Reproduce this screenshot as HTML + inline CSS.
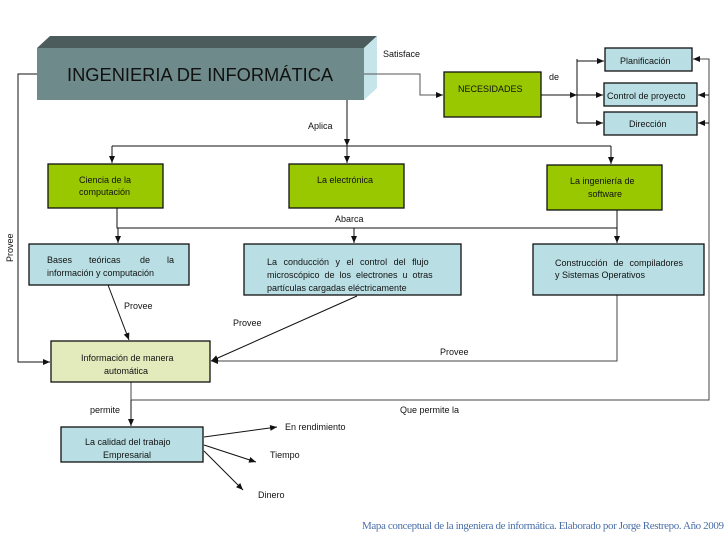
<!DOCTYPE html>
<html><head><meta charset="utf-8"><style>
body{margin:0;background:#fff}
svg{display:block}
text{font-family:"Liberation Sans",sans-serif;font-size:9px;fill:#111}
.b{stroke:#111;stroke-width:1.3}
</style></head><body>
<svg width="728" height="546" viewBox="0 0 728 546" xmlns="http://www.w3.org/2000/svg">
<defs><marker id="a" markerWidth="8" markerHeight="8" refX="7" refY="4" orient="auto" markerUnits="userSpaceOnUse"><path d="M0,1 L7,4 L0,7z" fill="#111"/></marker></defs>
<polygon points="37,48 50,36 377,36 364,48" fill="#4c5b5b"/>
<polygon points="364,48 377,36 377,88 364,100" fill="#c6e5ea"/>
<rect x="37" y="48" width="327" height="52" fill="#6f8a8a"/>
<text x="67" y="81" style="font-size:18.3px">INGENIERIA DE INFORMÁTICA</text>
<g fill="none" stroke="#111" stroke-width="1">
<polyline points="37,74 18,74 18,362 50,362" marker-end="url(#a)"/>
<polyline points="364,74 420,74 420,95 443,95" stroke="#555" marker-end="url(#a)"/>
<polyline points="541,95 577,95" marker-end="url(#a)"/>
<polyline points="577,59 577,123"/>
<line x1="577" y1="61" x2="604" y2="61" marker-end="url(#a)"/>
<line x1="577" y1="95" x2="603" y2="95" marker-end="url(#a)"/>
<line x1="577" y1="123" x2="603" y2="123" marker-end="url(#a)"/>
<polyline points="131,382 131,400 709,400 709,59 693,59" stroke="#444" marker-end="url(#a)"/>
<line x1="709" y1="95" x2="698" y2="95" marker-end="url(#a)"/>
<line x1="709" y1="123" x2="698" y2="123" marker-end="url(#a)"/>
<line x1="347" y1="100" x2="347" y2="146" marker-end="url(#a)"/>
<line x1="112" y1="146" x2="611" y2="146"/>
<line x1="112" y1="146" x2="112" y2="163" marker-end="url(#a)"/>
<line x1="347" y1="146" x2="347" y2="163" marker-end="url(#a)"/>
<line x1="611" y1="146" x2="611" y2="164" marker-end="url(#a)"/>
<polyline points="117,208 117,228 617,228"/>
<line x1="617" y1="210" x2="617" y2="228"/>
<line x1="118" y1="228" x2="118" y2="243" marker-end="url(#a)"/>
<line x1="354" y1="228" x2="354" y2="243" marker-end="url(#a)"/>
<line x1="617" y1="228" x2="617" y2="243" marker-end="url(#a)"/>
<line x1="108" y1="285" x2="129" y2="340" marker-end="url(#a)"/>
<line x1="357" y1="296" x2="211" y2="361" marker-end="url(#a)"/>
<polyline points="617,295 617,361 211,361" stroke="#444" marker-end="url(#a)"/>
<line x1="131" y1="400" x2="131" y2="426" marker-end="url(#a)"/>
<line x1="204" y1="437" x2="277" y2="427" marker-end="url(#a)"/>
<line x1="204" y1="445" x2="256" y2="462" marker-end="url(#a)"/>
<line x1="204" y1="451" x2="243" y2="490" marker-end="url(#a)"/>
</g>
<g class="b">
<rect x="444" y="72" width="97" height="45" fill="#99c800"/>
<rect x="605" y="48" width="87" height="23" fill="#b9dfe4"/>
<rect x="604" y="83" width="93" height="23" fill="#b9dfe4"/>
<rect x="604" y="112" width="93" height="23" fill="#b9dfe4"/>
<rect x="48" y="164" width="115" height="44" fill="#99c800"/>
<rect x="289" y="164" width="115" height="44" fill="#99c800"/>
<rect x="547" y="165" width="115" height="45" fill="#99c800"/>
<rect x="29" y="244" width="160" height="41" fill="#b9dfe4"/>
<rect x="244" y="244" width="217" height="51" fill="#b9dfe4"/>
<rect x="533" y="244" width="171" height="51" fill="#b9dfe4"/>
<rect x="51" y="341" width="159" height="41" fill="#e3ebbd"/>
<rect x="61" y="427" width="142" height="35" fill="#b9dfe4"/>
</g>
<text x="458" y="92">NECESIDADES</text>
<text x="620" y="64">Planificación</text>
<text x="607" y="99">Control de proyecto</text>
<text x="629" y="127">Dirección</text>
<text x="79" y="183">Ciencia de la</text>
<text x="79" y="195">computación</text>
<text x="317" y="183">La electrónica</text>
<text x="570" y="184">La ingeniería de</text>
<text x="588" y="197">software</text>
<text x="47" y="263">Bases</text><text x="89" y="263">teóricas</text><text x="140" y="263">de</text><text x="167" y="263">la</text>
<text x="47" y="276">información y computación</text>
<text x="267" y="265" style="word-spacing:4px">La conducción y el control del flujo</text>
<text x="267" y="278" style="word-spacing:2.5px">microscópico de los electrones u otras</text>
<text x="267" y="291">partículas cargadas eléctricamente</text>
<text x="555" y="266" style="word-spacing:3.5px">Construcción de compiladores</text>
<text x="555" y="278">y Sistemas Operativos</text>
<text x="81" y="361">Información de manera</text>
<text x="104" y="374">automática</text>
<text x="85" y="445">La calidad del trabajo</text>
<text x="103" y="458">Empresarial</text>
<text x="383" y="57">Satisface</text>
<text x="549" y="80">de</text>
<text x="308" y="129">Aplica</text>
<text x="335" y="222">Abarca</text>
<text x="124" y="309">Provee</text>
<text x="233" y="326">Provee</text>
<text x="440" y="355">Provee</text>
<text x="90" y="413">permite</text>
<text x="400" y="413">Que permite la</text>
<text x="285" y="430">En rendimiento</text>
<text x="270" y="458">Tiempo</text>
<text x="258" y="498">Dinero</text>
<text transform="translate(13,262) rotate(-90)">Provee</text>
<text x="362" y="529" textLength="362" style="font-family:'Liberation Serif',serif;font-size:11px;fill:#4a6fa8">Mapa conceptual de la ingeniera de informática. Elaborado por Jorge Restrepo. Año 2009</text>
</svg>
</body></html>
